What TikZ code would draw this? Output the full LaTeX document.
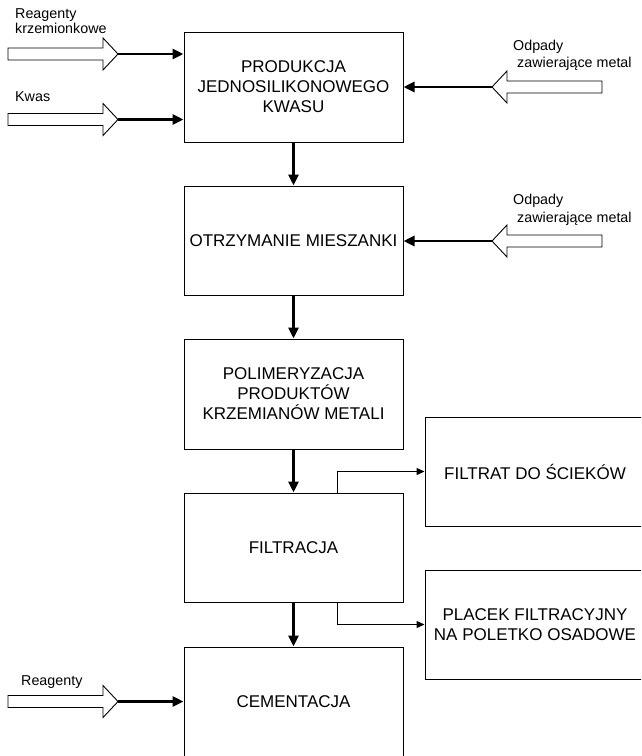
\documentclass[tikz,border=0pt]{standalone}
\usepackage{fontspec}
\setmainfont{Liberation Sans}
\usetikzlibrary{arrows.meta}
\begin{document}
\begin{tikzpicture}[x=1pt,y=-1pt,
  box/.style={draw, line width=1pt, minimum width=219pt, minimum height=110pt, inner sep=0pt, align=center, font=\fontsize{17}{20}\selectfont},
  rbox/.style={box, minimum width=220pt, minimum height=109pt},
  lbl/.style={anchor=base west, inner sep=0pt, font=\fontsize{14.3}{15}\selectfont},
  flow/.style={line width=2.8pt, -{Triangle[length=11pt,width=10pt]}},
  side/.style={line width=1.4pt, -{Triangle[length=8pt,width=7pt]}},
  hollow/.pic={\draw[line width=0.9pt, fill=white] (-110,-6) -- (-15,-6) -- (-15,-16) -- (0,0) -- (-15,16) -- (-15,6) -- (-110,6) -- cycle;}
]
\useasboundingbox (0,0) rectangle (641,756);
\clip (0,0) rectangle (641,756);

% process boxes
\node[box] (p1) at (293.5,87) {PRODUKCJA\\JEDNOSILIKONOWEGO\\KWASU};
\node[box, minimum height=109pt] (p2) at (293.5,240.5) {OTRZYMANIE MIESZANKI};
\node[box] (p3) at (293.5,394) {POLIMERYZACJA\\PRODUKTÓW\\KRZEMIANÓW METALI};
\node[box, minimum height=109pt] (p4) at (293.5,547.5) {FILTRACJA};
\node[box] (p5) at (293.5,702) {CEMENTACJA};
\node[rbox] (r1) at (535,471.5) {FILTRAT DO ŚCIEKÓW};
\node[rbox] (r2) at (535,624.5) {PLACEK FILTRACYJNY\\NA POLETKO OSADOWE};

% main flow
\draw[flow] (p1.south) -- (p2.north);
\draw[flow] (p2.south) -- (p3.north);
\draw[flow] (p3.south) -- (p4.north);
\draw[flow] (p4.south) -- (p5.north);

% side outputs
\coordinate (b1) at ([xshift=154pt]p4.north west);
\coordinate (b2) at ([xshift=154pt]p4.south west);
\draw[side] (b1) |- (r1.west);
\draw[side] (b2) |- (r2.west);

% inputs from left
\coordinate (t1) at (118,54);
\coordinate (t2) at (118,119.5);
\coordinate (t3) at (118,701.5);
\pic at (t1) {hollow};
\pic at (t2) {hollow};
\pic at (t3) {hollow};
\draw[flow] (t1) -- (p1.west |- t1);
\draw[flow] (t2) -- (p1.west |- t2);
\draw[flow] (t3) -- (p5.west |- t3);

% inputs from right
\coordinate (t4) at (492,87);
\coordinate (t5) at (492,241);
\pic[rotate=180] at (t4) {hollow};
\pic[rotate=180] at (t5) {hollow};
\draw[flow] (t4) -- (p1.east |- t4);
\draw[flow] (t5) -- (p2.east |- t5);

% labels
\node[lbl] (l1) at (15,18) {Reagenty};
\node[lbl] (l1b) at (15,33.3) {krzemionkowe};
\node[lbl] (l2) at (15,101.7) {Kwas};
\node[lbl] (l3) at (513,50) {Odpady};
\node[lbl] (l3b) at (517,67.5) {zawierające metal};
\node[lbl] (l4) at (513,204) {Odpady};
\node[lbl] (l4b) at (517,222) {zawierające metal};
\node[lbl] (l5) at (21,685) {Reagenty};
\end{tikzpicture}
\end{document}
